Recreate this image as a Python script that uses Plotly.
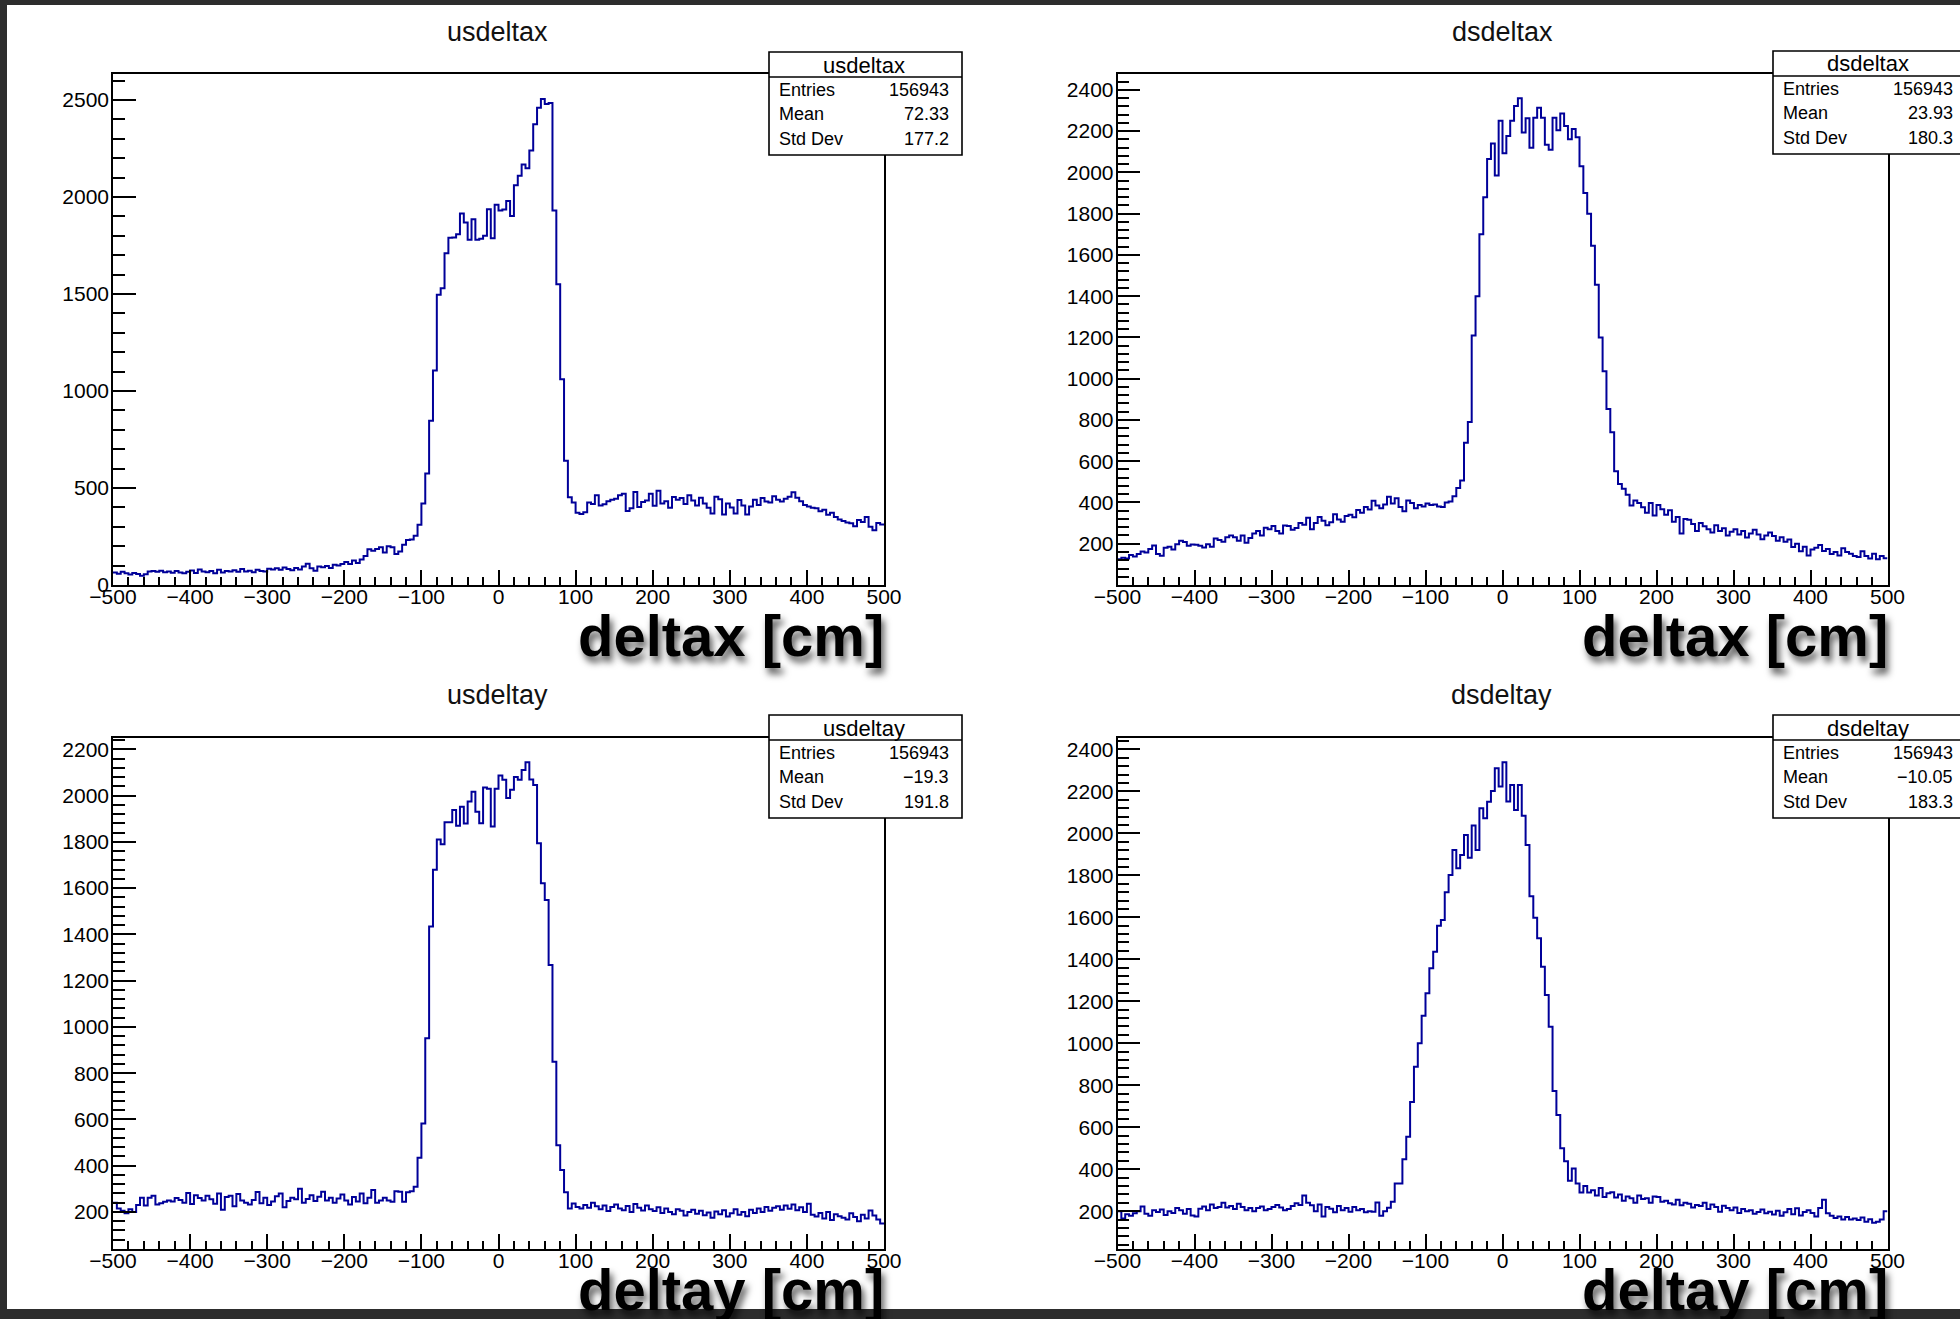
import plotly.graph_objects as go

# ---- histogram binning (TH1-style: 200 bins on [-500, 500] cm) ----
NBINS = 200
XMIN, XMAX = -500.0, 500.0

# ---- bin contents, 10 bins (50 cm) per row ----
us_deltax = [
    65, 58, 68, 60, 54, 62, 57, 48, 55, 70,
    72, 68, 74, 66, 70, 63, 72, 65, 60, 68,
    75, 62, 80, 70, 66, 72, 60, 78, 64, 72,
    70, 76, 68, 82, 70, 74, 66, 78, 72, 70,
    84, 80, 86, 78, 90, 82, 76, 88, 80, 96,
    110, 86, 74, 96, 92, 98, 88, 104, 100, 108,
    118, 108, 126, 114, 132, 150, 184, 176, 186, 195,
    168, 200, 194, 160, 173, 208, 232, 235, 254, 311,
    420, 575, 846, 1106, 1496, 1530, 1710, 1790, 1791, 1808,
    1915, 1868, 1779, 1885, 1779, 1785, 1800, 1937, 1788, 1960,
    1931, 1935, 1980, 1902, 2061, 2110, 2168, 2148, 2240, 2375,
    2460, 2505, 2480, 2485, 1930, 1550, 1060, 640, 452, 425,
    372, 366, 375, 425, 418, 462, 410, 416, 432, 440,
    444, 462, 470, 382, 396, 480, 402, 428, 436, 470,
    408, 486, 420, 432, 398, 454, 440, 448, 418, 462,
    436, 410, 450, 420, 398, 368, 455, 442, 364, 420,
    400, 368, 438, 410, 364, 405, 440, 412, 448, 430,
    425, 458, 440, 430, 445, 455, 478, 450, 432, 412,
    405, 398, 395, 380, 388, 362, 372, 350, 338, 330,
    322, 318, 303, 335, 325, 350, 300, 282, 320, 312,
]

ds_deltax = [
    125, 132, 128, 145, 138, 150, 162, 158, 175, 192,
    150, 142, 180, 186, 172, 198, 214, 208, 190, 196,
    195, 190, 182, 198, 186, 225, 218, 210, 232, 240,
    232, 215, 240, 205, 228, 250, 262, 240, 278, 270,
    286, 262, 250, 288, 286, 268, 276, 300, 292, 326,
    270, 300, 330, 312, 290, 304, 343, 318, 306, 335,
    340, 328, 363, 350, 378, 366, 408, 385, 372, 390,
    428, 395, 420, 378, 357, 410, 398, 372, 388, 380,
    395, 388, 390, 380, 378, 400, 405, 430, 470, 506,
    690, 790, 1210, 1400, 1700, 1880, 2065, 2140, 1985, 2250,
    2093, 2177, 2250, 2322, 2359, 2193, 2262, 2120, 2265, 2314,
    2265, 2134, 2110, 2265, 2204, 2285, 2225, 2161, 2210, 2170,
    2030, 1900, 1800, 1645, 1455, 1200, 1036, 853, 740, 551,
    490, 466, 438, 385, 409, 397, 377, 350, 398, 337,
    388, 367, 340, 362, 306, 330, 250, 320, 316, 296,
    262, 300, 285, 270, 255, 290, 262, 275, 240, 258,
    270, 245, 262, 230, 250, 268, 245, 222, 240, 255,
    238, 214, 232, 210, 220, 184, 200, 163, 186, 143,
    172, 180, 194, 165, 175, 150, 160, 143, 178, 160,
    152, 140, 136, 163, 140, 128, 152, 125, 140, 130,
]

us_deltay = [
    240, 215, 205, 195, 212, 200, 230, 262, 228, 262,
    270, 232, 238, 244, 250, 245, 260, 252, 240, 282,
    235, 272, 260, 250, 270, 255, 236, 280, 210, 265,
    270, 225, 278, 250, 240, 232, 252, 286, 238, 262,
    230, 245, 268, 280, 220, 248, 262, 255, 300, 240,
    256, 272, 248, 266, 288, 250, 262, 240, 258, 276,
    250, 232, 265, 245, 280, 238, 262, 295, 240, 250,
    262, 250, 244, 290, 288, 244, 285, 290, 309, 434,
    583, 951, 1434, 1679, 1810, 1790, 1885, 1885, 1938, 1870,
    1952, 1879, 1974, 2017, 1930, 1880, 2035, 2030, 1866, 2030,
    2087, 2068, 1990, 2025, 2080, 2068, 2111, 2144, 2070, 2046,
    1794, 1621, 1549, 1268, 850, 489, 381, 285, 215, 237,
    222, 215, 230, 218, 240, 225, 212, 228, 204, 222,
    232, 215, 208, 226, 200, 235, 218, 206, 228, 212,
    204, 220, 196, 215, 200, 190, 212, 205, 185, 200,
    210, 192, 205, 186, 198, 175, 202, 190, 208, 180,
    195, 212, 188, 200, 182, 210, 196, 215, 200, 222,
    205, 218, 225, 210, 228, 214, 232, 208, 220, 200,
    236, 188, 180, 196, 172, 200, 165, 190, 182, 175,
    168, 195, 178, 160, 188, 172, 206, 185, 168, 150,
]

ds_deltay = [
    200, 165, 185, 178, 190, 200, 222, 188, 178, 205,
    196, 208, 182, 200, 192, 215, 205, 188, 210, 180,
    175, 212, 222, 205, 232, 215, 220, 240, 218, 225,
    210, 235, 220, 205, 215, 200, 215, 222, 205, 210,
    220, 230, 218, 205, 210, 225, 238, 230, 275, 240,
    228, 200, 232, 175, 220, 212, 195, 225, 205, 215,
    198, 220, 205, 210, 195, 200, 197, 242, 178, 200,
    216, 245, 332, 332, 448, 555, 720, 888, 1000, 1131,
    1238, 1357, 1436, 1560, 1587, 1719, 1801, 1921, 1833, 1897,
    1992, 1884, 2037, 1921, 2119, 2072, 2150, 2202, 2310, 2223,
    2339, 2151, 2230, 2111, 2230, 2084, 1944, 1700, 1598, 1500,
    1365, 1230, 1079, 772, 658, 500, 438, 345, 404, 332,
    289, 320, 289, 300, 275, 310, 268, 285, 290, 265,
    280, 250, 270, 262, 240, 275, 258, 262, 240, 270,
    268, 245, 250, 238, 232, 255, 228, 240, 236, 218,
    230, 225, 240, 210, 232, 220, 198, 226, 215, 205,
    218, 192, 210, 200, 205, 188, 196, 208, 190, 198,
    184, 202, 178, 195, 210, 186, 214, 180, 196, 205,
    192, 175, 215, 254, 190, 178, 168, 175, 160, 172,
    160, 165, 158, 170, 150, 162, 145, 150, 160, 200,
]

# ---- per-histogram text ----
hist_names = ["usdeltax", "dsdeltax", "usdeltay", "dsdeltay"]
axis_titles = ["deltax [cm]", "deltax [cm]", "deltay [cm]", "deltay [cm]"]
entries = [156943, 156943, 156943, 156943]
means = [72.33, 23.93, -19.3, -10.05]
std_devs = [177.2, 180.3, 191.8, 183.3]
stat_labels = ["Entries", "Mean", "Std Dev"]

x_tick_vals = [-500, -400, -300, -200, -100, 0, 100, 200, 300, 400, 500]
x_tick_text = ["\u2212500", "\u2212400", "\u2212300", "\u2212200", "\u2212100",
               "0", "100", "200", "300", "400", "500"]

y_tick_vals = [
    [0, 500, 1000, 1500, 2000, 2500],
    [200, 400, 600, 800, 1000, 1200, 1400, 1600, 1800, 2000, 2200, 2400],
    [200, 400, 600, 800, 1000, 1200, 1400, 1600, 1800, 2000, 2200],
    [200, 400, 600, 800, 1000, 1200, 1400, 1600, 1800, 2000, 2200, 2400],
]
y_ranges = [[0, 2634], [0, 2477], [40, 2249], [20, 2454]]
y_minor_step = [100, 40, 40, 40]

histograms = [us_deltax, ds_deltax, us_deltay, ds_deltay]

# ---- page geometry (pixels) ----
W, H = 1960, 1319
FONT = "Liberation Sans, Arial, Helvetica, sans-serif"
LINE_BLUE = "#000099"


def fx(p):
    return p / W


def fy(p):
    return 1 - p / H


# frame (left, right, top, bottom) of each pad
frames = [(113, 884, 74, 585), (1117.5, 1887.5, 74, 585),
          (113, 884, 738, 1249), (1117.5, 1887.5, 738, 1249)]
title_pos = [(497, 32), (1502, 32), (497, 695), (1501, 695)]
caption_y = [635, 635, 1289, 1289]
stat_box = [(769, 52), (1773, 51), (769, 715), (1773, 715)]   # left, top
STAT_W, STAT_H = 193, 103

edges = [XMIN + i * (XMAX - XMIN) / NBINS for i in range(NBINS + 1)]

fig = go.Figure()
layout = dict(
    width=W, height=H,
    margin=dict(l=0, r=0, t=0, b=0, pad=0, autoexpand=False),
    paper_bgcolor="#2d2d2d",
    plot_bgcolor="white",
    showlegend=False,
    font=dict(family=FONT, color="black"),
)

shapes = [dict(type="rect", xref="paper", yref="paper",
               x0=fx(7), x1=fx(W + 5), y0=fy(1309), y1=fy(5),
               fillcolor="white", line=dict(width=0), layer="below")]
annotations = []

for k, counts in enumerate(histograms):
    n = "" if k == 0 else str(k + 1)
    l, r, t, b = frames[k]

    fig.add_trace(go.Scatter(
        x=edges, y=counts + [counts[-1]],
        mode="lines",
        line=dict(color=LINE_BLUE, width=2, shape="hv"),
        xaxis="x" + n, yaxis="y" + n,
        hoverinfo="skip",
    ))

    layout["xaxis" + n] = dict(
        domain=[fx(l), fx(r)], anchor="y" + n,
        range=[XMIN, XMAX],
        tickmode="array", tickvals=x_tick_vals, ticktext=x_tick_text,
        ticks="inside", ticklen=15, tickwidth=1.5, tickcolor="black",
        minor=dict(tickmode="linear", tick0=XMIN, dtick=20, ticks="inside",
                   ticklen=8, tickwidth=1.5, tickcolor="black"),
        showline=True, linewidth=1.6, linecolor="black", mirror=True,
        showgrid=False, zeroline=False, automargin=False,
        tickfont=dict(family=FONT, size=21, color="black"),
        ticklabelstandoff=-8,
    )
    layout["yaxis" + n] = dict(
        domain=[fy(b), fy(t)], anchor="x" + n,
        range=y_ranges[k],
        tickmode="array", tickvals=y_tick_vals[k],
        ticktext=[str(v) for v in y_tick_vals[k]],
        ticks="inside", ticklen=23, tickwidth=1.5, tickcolor="black",
        minor=dict(tickmode="linear", tick0=0, dtick=y_minor_step[k],
                   ticks="inside", ticklen=12, tickwidth=1.5,
                   tickcolor="black"),
        showline=True, linewidth=1.6, linecolor="black", mirror=True,
        showgrid=False, zeroline=False, automargin=False,
        tickfont=dict(family=FONT, size=21, color="black"),
        ticklabelstandoff=-2,
    )

    # pad title
    tx, ty = title_pos[k]
    annotations.append(dict(
        text=hist_names[k], x=fx(tx), y=fy(ty), xref="paper", yref="paper",
        xanchor="center", yanchor="middle", showarrow=False,
        font=dict(family=FONT, size=27, color="#111111"),
    ))

    # big axis caption with drop shadow
    annotations.append(dict(
        text="<b>" + axis_titles[k] + "</b>", x=fx(r + 2), y=fy(caption_y[k]),
        xref="paper", yref="paper", xanchor="right", yanchor="middle",
        showarrow=False,
        font=dict(family=FONT, size=58, color="black",
                  shadow="3px 6px 7px rgba(0,0,0,0.65)"),
    ))

    # statistics box
    bl, bt = stat_box[k]
    shapes.append(dict(type="rect", xref="paper", yref="paper",
                       x0=fx(bl), x1=fx(bl + STAT_W), y0=fy(bt + STAT_H),
                       y1=fy(bt), fillcolor="white",
                       line=dict(color="black", width=1.6), layer="above"))
    shapes.append(dict(type="line", xref="paper", yref="paper",
                       x0=fx(bl), x1=fx(bl + STAT_W), y0=fy(bt + 25),
                       y1=fy(bt + 25),
                       line=dict(color="black", width=1.6), layer="above"))
    annotations.append(dict(
        text=hist_names[k], x=fx(bl + STAT_W / 2 - 2), y=fy(bt + 13),
        xref="paper", yref="paper", xanchor="center", yanchor="middle",
        showarrow=False, font=dict(family=FONT, size=22, color="black"),
    ))
    values = [
        str(entries[k]),
        ("%g" % means[k]).replace("-", "\u2212"),
        ("%g" % std_devs[k]).replace("-", "\u2212"),
    ]
    row_y = [bt + 38, bt + 62, bt + 87]
    for lab, val, yy in zip(stat_labels, values, row_y):
        annotations.append(dict(
            text=lab, x=fx(bl + 8), y=fy(yy), xref="paper", yref="paper",
            xanchor="left", yanchor="middle", showarrow=False,
            font=dict(family=FONT, size=18, color="black"),
        ))
        annotations.append(dict(
            text=val, x=fx(bl + STAT_W - 11), y=fy(yy), xref="paper",
            yref="paper", xanchor="right", yanchor="middle", showarrow=False,
            font=dict(family=FONT, size=18, color="black"),
        ))

layout["shapes"] = shapes
layout["annotations"] = annotations
fig.update_layout(**layout)

fig.write_html("out.html")
